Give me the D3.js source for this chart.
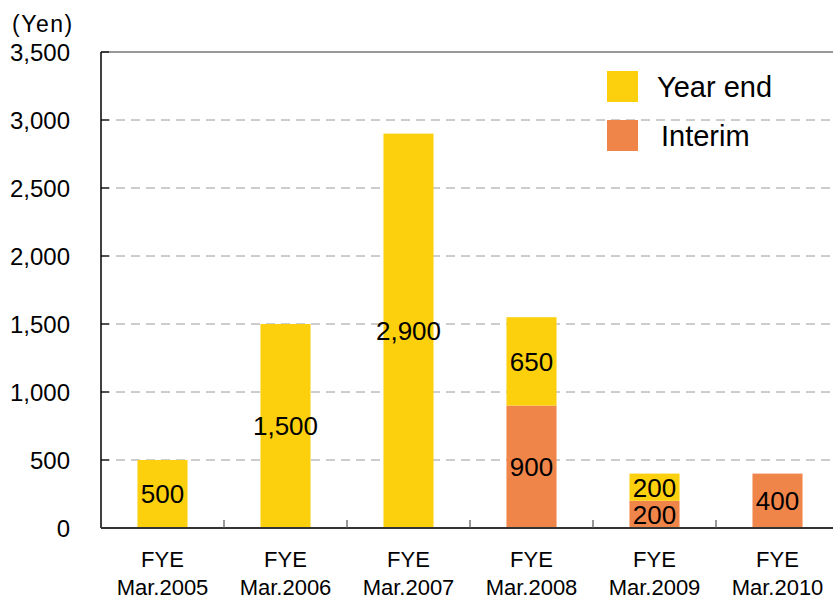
<!DOCTYPE html>
<html>
<head>
<meta charset="utf-8">
<script src="https://cdn.jsdelivr.net/npm/d3@7"></script>
<style>
  html, body { margin: 0; padding: 0; background: #fff; }
  svg { display: block; font-family: Arial, "Liberation Sans", sans-serif; }
</style>
</head>
<body>
<svg id="chart" width="833" height="600"></svg>
<script>
// Dividend per share (yen), split into interim and year-end payments
const categoryLine1 = ["FYE", "FYE", "FYE", "FYE", "FYE", "FYE"];
const categoryLine2 = ["Mar.2005", "Mar.2006", "Mar.2007", "Mar.2008", "Mar.2009", "Mar.2010"];
const interim = [0, 0, 0, 900, 200, 400];
const yearEnd = [500, 1500, 2900, 650, 200, 0];
const yTicks = [0, 500, 1000, 1500, 2000, 2500, 3000, 3500];
const seriesNames = ["Year end", "Interim"];
const seriesColors = ["#FDD00E", "#F0854A"];

const svg = d3.select("#chart");
const margin = { left: 101, right: -6, top: 52, bottom: 72 };
const width = 833, height = 600;
const x0 = margin.left, x1 = width - margin.right;
const yTop = margin.top, yBottom = height - margin.bottom;

const x = d3.scaleBand()
  .domain(d3.range(categoryLine2.length))
  .range([x0, x1])
  .paddingInner(0.593)
  .paddingOuter(0.2965);

const y = d3.scaleLinear().domain([0, 3500]).range([yBottom, yTop]);

// Horizontal dashed gridlines
svg.append("g")
  .selectAll("line")
  .data(yTicks.filter(t => t > 0 && t < 3500))
  .join("line")
  .attr("x1", x0).attr("x2", x1)
  .attr("y1", d => y(d)).attr("y2", d => y(d))
  .attr("stroke", "#9a9a9a")
  .attr("stroke-width", 1)
  .attr("stroke-dasharray", "9,6");

// Top border of plot area
svg.append("line")
  .attr("x1", x0).attr("x2", x1)
  .attr("y1", y(3500)).attr("y2", y(3500))
  .attr("stroke", "#333").attr("stroke-width", 1.2);

// Stacked bars
const stackData = categoryLine2.map((c, i) => ({ i, interim: interim[i], yearEnd: yearEnd[i] }));
const segments = [];
stackData.forEach(d => {
  if (d.interim > 0) segments.push({ i: d.i, lo: 0, hi: d.interim, v: d.interim, s: 1 });
  if (d.yearEnd > 0) segments.push({ i: d.i, lo: d.interim, hi: d.interim + d.yearEnd, v: d.yearEnd, s: 0 });
});

svg.append("g")
  .selectAll("rect")
  .data(segments)
  .join("rect")
  .attr("x", d => x(d.i))
  .attr("width", x.bandwidth())
  .attr("y", d => y(d.hi))
  .attr("height", d => y(d.lo) - y(d.hi))
  .attr("fill", d => seriesColors[d.s]);

// Value labels centred inside each segment
svg.append("g")
  .selectAll("text")
  .data(segments)
  .join("text")
  .attr("x", d => x(d.i) + x.bandwidth() / 2)
  .attr("y", d => (y(d.lo) + y(d.hi)) / 2)
  .attr("dy", "0.36em")
  .attr("text-anchor", "middle")
  .attr("font-size", 26)
  .attr("fill", "#000")
  .text(d => d3.format(",")(d.v));

// Y axis
const yAxis = svg.append("g").attr("transform", `translate(${x0},0)`);
yAxis.append("line")
  .attr("x1", 0).attr("x2", 0).attr("y1", yTop).attr("y2", yBottom)
  .attr("stroke", "#000").attr("stroke-width", 1.5);
yAxis.selectAll("line.tick")
  .data(yTicks)
  .join("line")
  .attr("class", "tick")
  .attr("x1", 0).attr("x2", 8)
  .attr("y1", d => y(d)).attr("y2", d => y(d))
  .attr("stroke", "#000").attr("stroke-width", 1.2);
svg.append("g")
  .selectAll("text")
  .data(yTicks)
  .join("text")
  .attr("x", 70)
  .attr("y", d => y(d))
  .attr("dy", "0.36em")
  .attr("text-anchor", "end")
  .attr("font-size", 24)
  .attr("fill", "#000")
  .text(d => d3.format(",")(d));

// Unit label
svg.append("text")
  .attr("x", 12).attr("y", 32)
  .attr("font-size", 23)
  .attr("letter-spacing", 1.5)
  .attr("fill", "#000")
  .text("(Yen)");

// X axis baseline and separator ticks
svg.append("line")
  .attr("x1", x0).attr("x2", x1)
  .attr("y1", yBottom).attr("y2", yBottom)
  .attr("stroke", "#333").attr("stroke-width", 2);
svg.append("g")
  .selectAll("line")
  .data(d3.range(1, categoryLine2.length))
  .join("line")
  .attr("x1", i => x0 + x.step() * i).attr("x2", i => x0 + x.step() * i)
  .attr("y1", yBottom).attr("y2", yBottom - 8)
  .attr("stroke", "#555").attr("stroke-width", 1.2);

// Category labels (two lines)
const catG = svg.append("g")
  .selectAll("text")
  .data(d3.range(categoryLine2.length))
  .join("text")
  .attr("text-anchor", "middle")
  .attr("font-size", 22)
  .attr("fill", "#000");
catG.append("tspan")
  .attr("x", i => x(i) + x.bandwidth() / 2)
  .attr("y", 567)
  .text(i => categoryLine1[i]);
catG.append("tspan")
  .attr("x", i => x(i) + x.bandwidth() / 2)
  .attr("y", 595)
  .text(i => categoryLine2[i]);

// Legend
const legend = svg.append("g")
  .selectAll("g")
  .data(seriesNames)
  .join("g")
  .attr("transform", (d, i) => `translate(607,${71 + i * 49})`);
legend.append("rect")
  .attr("width", 31).attr("height", 31)
  .attr("fill", (d, i) => seriesColors[i]);
legend.append("text")
  .attr("x", (d, i) => i === 0 ? 50 : 54)
  .attr("y", 15.5)
  .attr("dy", "0.36em")
  .attr("font-size", 29)
  .attr("fill", "#000")
  .text(d => d);
</script>
</body>
</html>
